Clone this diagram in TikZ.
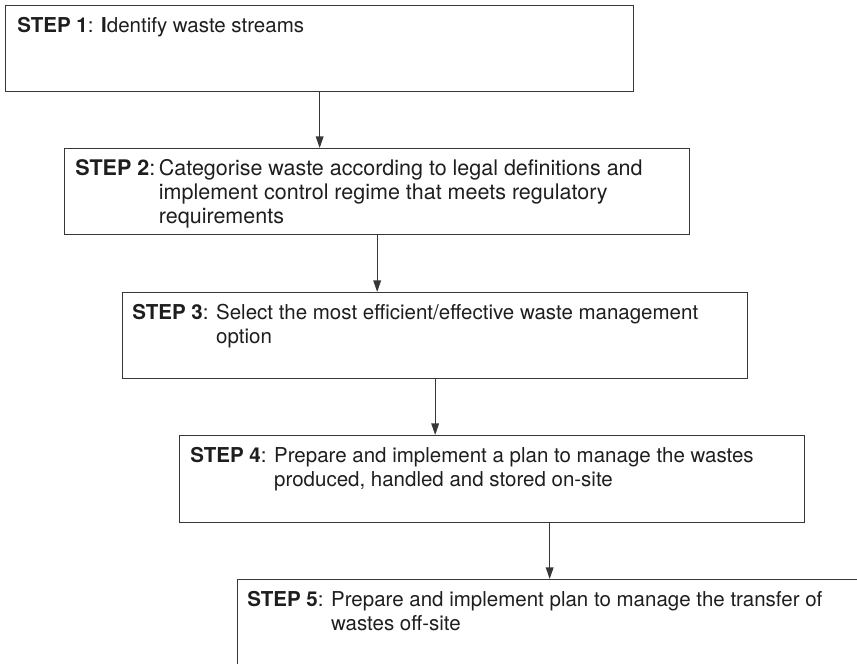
\documentclass[tikz,border=0pt]{standalone}
\usepackage{fontspec}
\setmainfont{TeX Gyre Heros}
\usetikzlibrary{arrows.meta}
\definecolor{LineGray}{RGB}{55,55,55}
\definecolor{TextBlack}{RGB}{30,30,30}

\begin{document}
\begin{tikzpicture}[x=0.6pt, y=-0.6pt,
    stepbox/.style={draw=LineGray, line width=0.8pt, inner sep=0pt, anchor=north west,
      minimum width=375pt, minimum height=52pt},
    steplabel/.style={anchor=base west, inner sep=0pt, text=TextBlack,
      font=\fontsize{12.3}{14.4}\selectfont},
    steparrow/.style={draw=LineGray, line width=0.8pt, -{Triangle[length=7pt, width=4.6pt]}}]
  \clip (0,0) rectangle (857,663);

  % Boxes
  \node[stepbox, minimum width=376.8pt, minimum height=51.6pt] (s1) at (5,5) {};
  \node[stepbox, minimum height=51.6pt] (s2) at (64,148) {};
  \node[stepbox, minimum height=51.6pt] (s3) at (122,292) {};
  \node[stepbox, minimum height=52.2pt] (s4) at (179,435) {};
  \node[stepbox, minimum width=374.4pt, minimum height=60pt] (s5) at (237,579) {};

  % Texts
  \node[steplabel] (t1) at ([shift={(12,27)}]s1.north west)
    {\textbf{STEP 1}: \textbf{I}dentify waste streams};
  \node[steplabel, font=\fontsize{12.9}{14.4}\selectfont] (t2) at ([shift={(11,27)}]s2.north west)
    {\textbf{STEP 2}:\,\begin{tabular}[t]{@{}l@{}}Categorise waste according to legal definitions and\\
      implement control regime that meets regulatory\\ requirements\end{tabular}};
  \node[steplabel] (t3) at ([shift={(10,27)}]s3.north west)
    {\textbf{STEP 3}: \begin{tabular}[t]{@{}l@{}}Select the most efficient/effective waste management\\
      option\end{tabular}};
  \node[steplabel] (t4) at ([shift={(11,27)}]s4.north west)
    {\textbf{STEP 4}: \begin{tabular}[t]{@{}l@{}}Prepare and implement a plan to manage the wastes\\
      produced, handled and stored on-site\end{tabular}};
  \node[steplabel] (t5) at ([shift={(10,27)}]s5.north west)
    {\textbf{STEP 5}: \begin{tabular}[t]{@{}l@{}}Prepare and implement plan to manage the transfer of\\
      wastes off-site\end{tabular}};

  % Arrows
  \draw[steparrow] (s1.south) -- (s1.south |- s2.north);
  \draw[steparrow] (s2.south) -- (s2.south |- s3.north);
  \draw[steparrow] (s3.south) -- (s3.south |- s4.north);
  \draw[steparrow] (s5.north |- s4.south) -- (s5.north);
\end{tikzpicture}
\end{document}
